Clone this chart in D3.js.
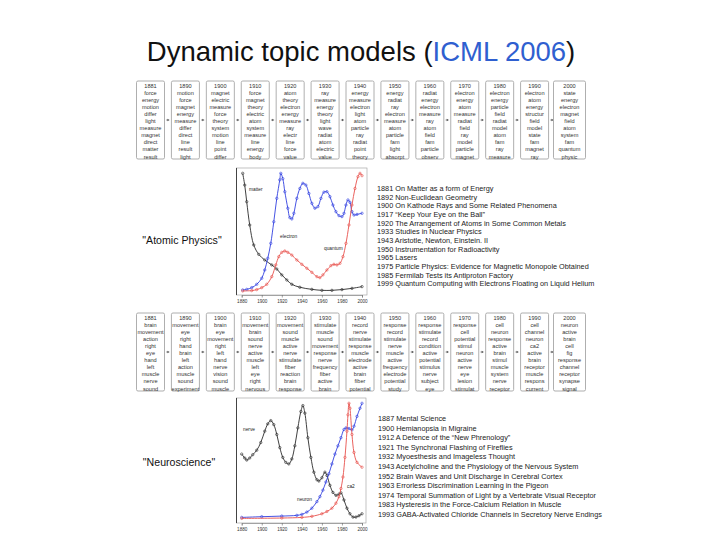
<!DOCTYPE html>
<html><head><meta charset="utf-8">
<script src="https://cdn.jsdelivr.net/npm/d3@7"></script>
<style>body{margin:0;background:#fff}svg{display:block;font-family:"Liberation Sans",Arial,sans-serif}</style>
</head><body><svg id="c" width="720" height="540"></svg>
<script>
// ---------- DATA ----------
const yearTicks = [1880, 1900, 1920, 1940, 1960, 1980, 2000];

const atomicYears = ["1881","1890","1900","1910","1920","1930","1940","1950","1960","1970","1980","1990","2000"];
const atomicTopics = [
  ["force","energy","motion","differ","light","measure","magnet","direct","matter","result"],
  ["motion","force","magnet","energy","measure","differ","direct","line","result","light"],
  ["magnet","electric","measure","force","theory","system","motion","line","point","differ"],
  ["force","magnet","theory","electric","atom","system","measure","line","energy","body"],
  ["atom","theory","electron","energy","measure","ray","electr","line","force","value"],
  ["ray","measure","energy","theory","light","wave","radiat","atom","electric","value"],
  ["energy","measure","electron","light","atom","particle","ray","radiat","point","theory"],
  ["energy","radiat","ray","electron","measure","atom","particle","fam","light","absorpt"],
  ["radiat","energy","electron","measure","ray","atom","field","fam","particle","observ"],
  ["electron","energy","atom","measure","radiat","field","ray","model","particle","magnet"],
  ["electron","energy","particle","field","radiat","model","atom","fam","ray","measure"],
  ["electron","atom","energy","structur","field","model","state","fam","magnet","ray"],
  ["state","energy","electron","magnet","field","atom","system","fam","quantum","physic"]
];
const neuroYears = ["1881","1890","1900","1910","1920","1930","1940","1950","1960","1970","1980","1990","2000"];
const neuroTopics = [
  ["brain","movement","action","right","eye","hand","left","muscle","nerve","sound"],
  ["movement","eye","right","hand","brain","left","action","muscle","sound","experiment"],
  ["brain","eye","movement","right","left","hand","nerve","vision","sound","muscle"],
  ["movement","brain","sound","nerve","active","muscle","left","eye","right","nervous"],
  ["movement","sound","muscle","active","nerve","stimulate","fiber","reaction","brain","response"],
  ["stimulate","muscle","sound","movement","response","nerve","frequency","fiber","active","brain"],
  ["record","nerve","stimulate","response","muscle","electrode","active","brain","fiber","potential"],
  ["response","record","stimulate","nerve","muscle","active","frequency","electrode","potential","study"],
  ["response","stimulate","record","condition","active","potential","stimulus","nerve","subject","eye"],
  ["response","cell","potential","stimul","neuron","active","nerve","eye","lesion","stimulat"],
  ["cell","neuron","response","active","brain","stimul","muscle","system","nerve","receptor"],
  ["cell","channel","neuron","ca2","active","brain","receptor","muscle","respons","current"],
  ["neuron","active","brain","cell","fig","response","channel","receptor","synapse","signal"]
];

const atomicTitles = [
  "1881 On Matter as a form of Energy",
  "1892 Non-Euclidean Geometry",
  "1900 On Kathode Rays and Some Related Phenomena",
  "1917 \u201cKeep Your Eye on the Ball\u201d",
  "1920 The Arrangement of Atoms in Some Common Metals",
  "1933 Studies in Nuclear Physics",
  "1943 Aristotle, Newton, Einstein. II",
  "1950 Instrumentation for Radioactivity",
  "1965 Lasers",
  "1975 Particle Physics: Evidence for Magnetic Monopole Obtained",
  "1985 Fermilab Tests its Antiproton Factory",
  "1999 Quantum Computing with Electrons Floating on Liquid Helium"
];
const neuroTitles = [
  "1887 Mental Science",
  "1900 Hemianopsia in Migraine",
  "1912 A Defence of the \u201cNew Phrenology\u201d",
  "1921 The Synchronal Flashing of Fireflies",
  "1932 Myoesthesis and Imageless Thought",
  "1943 Acetylcholine and the Physiology of the Nervous System",
  "1952 Brain Waves and Unit Discharge in Cerebral Cortex",
  "1963 Errorless Discrimination Learning in the Pigeon",
  "1974 Temporal Summation of Light by a Vertebrate Visual Receptor",
  "1983 Hysteresis in the Force-Calcium Relation in Muscle",
  "1993 GABA-Activated Chloride Channels in Secretory Nerve Endings"
];

// Atomic physics topic proportions (year, value)
const matterYears = [1881,1883,1885,1888,1892,1897,1903,1910,1915,1920,1925,1930,1938,1950,1960,1970,1980,1990,2000];
const matterVals  = [97.3,87.8,74.3,55.4,39.2,31.6,27,23,19.7,14.9,10.8,7.3,4.9,3.2,2.4,2.4,3,4,5.4];
const electronYears = [1881,1885,1890,1895,1900,1903,1906,1909,1912,1915,1918,1919,1921,1923,1926,1928,1930,1932,1935,1938,1941,1944,1947,1950,1953,1956,1959,1962,1965,1968,1971,1974,1977,1980,1982,1984,1986,1988,1990,1992,1995,2000];
const electronVals  = [2.7,3.2,4.6,7.3,12.2,18.9,28.4,40.5,58,77,92,97.3,93,82.4,69,61.4,60.3,64.9,77,85,89.2,87.8,81,73,69,70.3,77,82,82.4,78.4,71.6,66.2,63,62.2,64.9,71.6,75.7,73.8,66.2,63.5,64,64.9];
const quantumYears = [1881,1890,1895,1900,1905,1910,1914,1917,1920,1923,1926,1930,1935,1940,1945,1950,1955,1958,1961,1965,1969,1972,1975,1978,1981,1984,1987,1990,1993,1996,1998,2000];
const quantumVals  = [1.9,2.2,3,4.6,7.3,13.5,23,29.7,33.2,34.3,33.2,31,27,23.5,20.3,17,13.5,12.7,14.9,18.9,22.4,23.5,23,24.3,29.7,40.5,55.4,71.6,85,94.6,97.3,95.4];

// Neuroscience topic proportions
const nerveYears = [1880,1883,1885,1888,1891,1895,1899,1903,1906,1909,1912,1915,1918,1921,1924,1927,1930,1933,1936,1939,1941,1943,1946,1949,1952,1955,1957,1960,1963,1965,1968,1971,1974,1977,1979,1982,1985,1988,1991,1994,1997,2000];
const nerveVals  = [55.4,52.2,50.5,52.2,54.9,58.6,64.9,74.3,80.3,83,79.7,71.6,60.8,52.7,48.6,47.3,51.4,62.2,77,90.5,95.4,89.2,68.9,52.7,40.5,34.3,33.2,35.9,40.5,37.8,29.7,23.8,21.4,22.4,23.5,17.6,10.8,6.2,3.5,3.5,4.6,6.2];
const neuronYears = [1880,1900,1920,1935,1940,1945,1950,1955,1958,1961,1964,1967,1970,1973,1976,1979,1982,1984,1987,1990,1992,1995,1998,2000];
const neuronVals  = [3.2,3.8,4.3,4.9,5.7,7.6,10.8,16.2,20.3,25.7,32.4,39.2,47.3,55.4,62.2,68.9,75.7,77,76.5,75.4,78.4,86.5,93.2,97.3];
const ca2Years = [1880,1920,1940,1950,1960,1965,1970,1974,1977,1979,1981,1983,1985,1986,1987,1988,1990,1992,1995,2000];
const ca2Vals  = [2.4,2.7,3.2,4.1,6.2,8.1,10.8,14.9,20.3,27,36.5,52.7,74.3,87.8,97.3,93.2,71.6,56.8,48.6,44.6];

const seriesColors = {black:"#2a2a2a", blue:"#3140e0", red:"#e8504c"};

// ---------- DRAW ----------
const svg = d3.select("#c");

// Title
const title = svg.append("text").attr("x",361).attr("y",61).attr("text-anchor","middle")
  .attr("font-size",27.5).attr("fill","#111");
title.append("tspan").text("Dynamic topic models (");
title.append("tspan").attr("fill","#2f5fd0").text("ICML 2006");
title.append("tspan").text(")");

function drawBoxes(years, topics, top, height){
  const g = svg.append("g");
  const xb = d3.scaleLinear().domain([0, years.length-1]).range([150.5, 569.5]);
  const w = 28;
  years.forEach((yr,i)=>{
    const cx = xb(i);
    const bw = i === years.length-1 ? 32 : w;
    g.append("rect").attr("x",cx-bw/2).attr("y",top).attr("width",bw).attr("height",height)
      .attr("rx",1.5).attr("fill","#fff").attr("stroke","#9a9a9a").attr("stroke-width",0.8);
    const lines = [yr].concat(topics[i]);
    lines.forEach((t,j)=>{
      g.append("text").attr("x",cx).attr("y",top+7+j*7.05).attr("text-anchor","middle")
        .attr("font-size",5.6).attr("fill","#333").text(t);
    });
    if(i < years.length-1){
      const ax = cx + bw/2 + 1.8, ax2 = xb(i+1) - w/2 - 1.8, ay = top + height/2;
      g.append("line").attr("x1",ax).attr("x2",ax2-1.5).attr("y1",ay).attr("y2",ay)
        .attr("stroke","#555").attr("stroke-width",0.7);
      g.append("path").attr("d",`M${ax2},${ay} L${ax2-2.2},${ay-1.3} L${ax2-2.2},${ay+1.3} Z`).attr("fill","#555");
    }
  });
}

function drawChart(frame, series, labels){
  const g = svg.append("g");
  const x = d3.scaleLinear().domain([1880,2000]).range([241.7,362]);
  const y = d3.scaleLinear().domain([0,100]).range([frame.bottom-1.7, frame.top+2]);
  g.append("rect").attr("x",frame.left).attr("y",frame.top).attr("width",frame.right-frame.left)
    .attr("height",frame.bottom-frame.top).attr("fill","#fff").attr("stroke","#9a9a9a").attr("stroke-width",0.6);
  g.append("line").attr("x1",frame.left).attr("x2",frame.left).attr("y1",frame.top).attr("y2",frame.bottom)
    .attr("stroke","#444").attr("stroke-width",1);
  const ax = g.append("g").attr("transform",`translate(0,${frame.bottom})`)
    .call(d3.axisBottom(x).tickValues(yearTicks).tickFormat(d3.format("d")).tickSize(2.5).tickPadding(2.5));
  ax.select(".domain").attr("stroke","#777").attr("stroke-width",0.6);
  ax.selectAll(".tick line").attr("stroke","#666").attr("stroke-width",0.6);
  ax.selectAll("text").attr("font-size",4.6).attr("fill","#333").attr("font-family","Liberation Sans, Arial, sans-serif");
  const line = d3.line().x(d=>x(d[0])).y(d=>y(d[1])).curve(d3.curveCatmullRom.alpha(0.5));
  series.forEach(s=>{
    const pts = s.years.map((yr,i)=>[yr, s.vals[i]]);
    g.append("path").datum(pts).attr("d",line).attr("fill","none").attr("stroke",s.color).attr("stroke-width",0.9);
    g.selectAll(null).data(pts).enter().append("circle")
      .attr("cx",d=>x(d[0])).attr("cy",d=>y(d[1])).attr("r",1.2)
      .attr("fill","none").attr("stroke",s.color).attr("stroke-width",0.6);
  });
  labels.forEach(l=>{
    g.append("text").attr("x",l.x).attr("y",l.y).attr("font-size",4.8).attr("fill","#222").text(l.t);
  });
}

function drawList(list, x, y0, step){
  const g = svg.append("g");
  list.forEach((t,i)=>{
    g.append("text").attr("x",x).attr("y",y0+i*step).attr("font-size",7.3).attr("fill","#222").text(t);
  });
}

// Row 1: Atomic physics
drawBoxes(atomicYears, atomicTopics, 81, 78);
drawChart({left:236.5,right:367,top:168,bottom:295},
  [{years:matterYears, vals:matterVals, color:seriesColors.black},
   {years:electronYears, vals:electronVals, color:seriesColors.blue},
   {years:quantumYears, vals:quantumVals, color:seriesColors.red}],
  [{t:"matter",x:249,y:191},{t:"electron",x:280,y:238},{t:"quantum",x:324,y:250}]);
drawList(atomicTitles, 377, 191, 8.65);
svg.append("text").attr("x",182).attr("y",244).attr("text-anchor","middle").attr("font-size",10.6)
  .attr("fill","#111").text("\"Atomic Physics\"");

// Row 2: Neuroscience
drawBoxes(neuroYears, neuroTopics, 313, 78);
drawChart({left:236.5,right:366,top:398,bottom:523},
  [{years:nerveYears, vals:nerveVals, color:seriesColors.black},
   {years:neuronYears, vals:neuronVals, color:seriesColors.blue},
   {years:ca2Years, vals:ca2Vals, color:seriesColors.red}],
  [{t:"nerve",x:243,y:431},{t:"neuron",x:297,y:501},{t:"ca2",x:347,y:488}]);
drawList(neuroTitles, 378, 421, 9.6);
svg.append("text").attr("x",179).attr("y",466).attr("text-anchor","middle").attr("font-size",10.6)
  .attr("fill","#111").text("\"Neuroscience\"");
</script></body></html>
